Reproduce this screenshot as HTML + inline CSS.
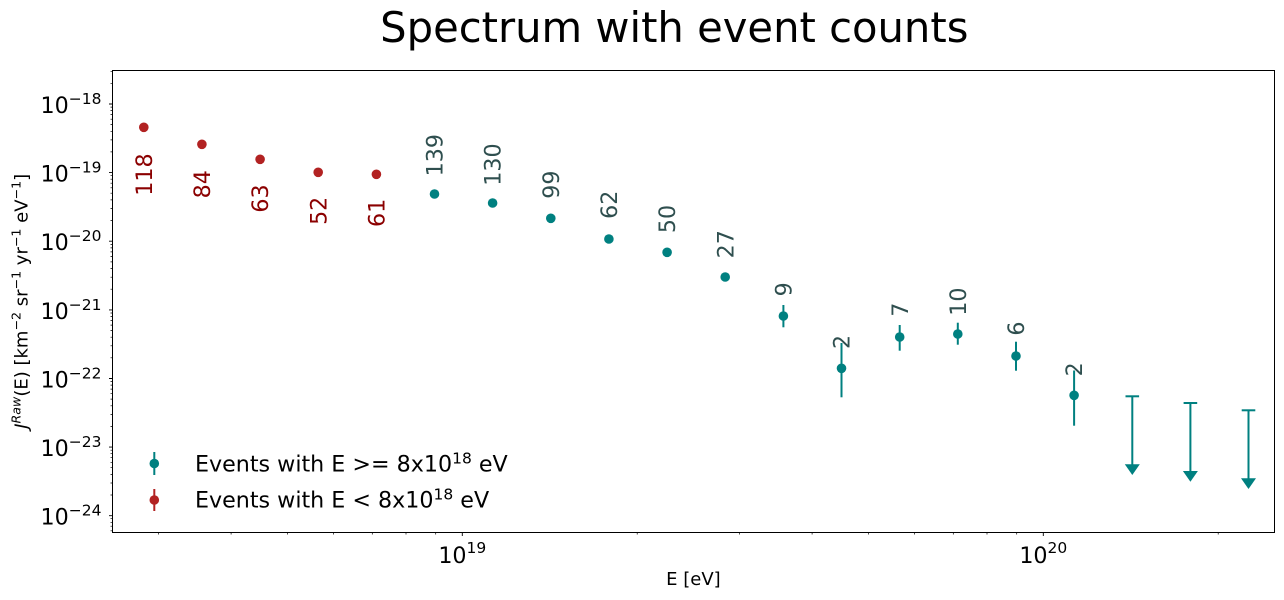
<!DOCTYPE html>
<html>
<head>
<meta charset="utf-8">
<style>
  html, body { margin: 0; padding: 0; background: #ffffff; }
  svg { display: block; }
  text { font-family: "DejaVu Sans", "Liberation Sans", sans-serif; }
</style>
</head>
<body>
<svg width="1284" height="600" viewBox="0 0 1284 600" xmlns="http://www.w3.org/2000/svg">
  <rect x="0" y="0" width="1284" height="600" fill="#ffffff"/>

  <!-- Title -->
  <text x="674.3" y="42" font-size="41.7" text-anchor="middle" fill="#000">Spectrum with event counts</text>

  <!-- Axes frame -->
  <rect x="112.5" y="70.5" width="1162" height="462" fill="none" stroke="#000" stroke-width="1"/>

  <!-- X major ticks -->
  <path d="M462.3 532.5 v3.5 M1043.3 532.5 v3.5" stroke="#000" stroke-width="0.9"/>
  <!-- X minor ticks -->
  <path d="M158.5 532.5 v2 M231.1 532.5 v2 M287.4 532.5 v2 M333.4 532.5 v2 M372.3 532.5 v2 M406 532.5 v2 M435.7 532.5 v2
           M637.2 532.5 v2 M739.5 532.5 v2 M812.1 532.5 v2 M868.4 532.5 v2 M914.4 532.5 v2 M953.3 532.5 v2 M987 532.5 v2 M1016.7 532.5 v2
           M1218.2 532.5 v2" stroke="#000" stroke-width="0.7"/>

  <!-- Y major ticks -->
  <path d="M112.5 104 h-3.5 M112.5 172.6 h-3.5 M112.5 241.2 h-3.5 M112.5 309.9 h-3.5 M112.5 378.5 h-3.5 M112.5 447.1 h-3.5 M112.5 515.7 h-3.5" stroke="#000" stroke-width="0.9"/>
  <!-- Y minor ticks -->
  <path d="M112.5 530.8 h-2 M112.5 526.2 h-2 M112.5 522.3 h-2 M112.5 518.7 h-2
           M112.5 495.0 h-2 M112.5 483.0 h-2 M112.5 474.4 h-2 M112.5 467.7 h-2 M112.5 462.3 h-2 M112.5 457.7 h-2 M112.5 453.7 h-2 M112.5 450.2 h-2
           M112.5 426.4 h-2 M112.5 414.4 h-2 M112.5 405.8 h-2 M112.5 399.1 h-2 M112.5 393.7 h-2 M112.5 389.1 h-2 M112.5 385.1 h-2 M112.5 381.6 h-2
           M112.5 357.8 h-2 M112.5 345.8 h-2 M112.5 337.2 h-2 M112.5 330.5 h-2 M112.5 325.1 h-2 M112.5 320.5 h-2 M112.5 316.5 h-2 M112.5 313.0 h-2
           M112.5 289.2 h-2 M112.5 277.2 h-2 M112.5 268.6 h-2 M112.5 261.9 h-2 M112.5 256.5 h-2 M112.5 251.9 h-2 M112.5 247.9 h-2 M112.5 244.4 h-2
           M112.5 220.5 h-2 M112.5 208.5 h-2 M112.5 199.9 h-2 M112.5 193.2 h-2 M112.5 187.8 h-2 M112.5 183.2 h-2 M112.5 179.2 h-2 M112.5 175.7 h-2
           M112.5 151.9 h-2 M112.5 139.9 h-2 M112.5 131.3 h-2 M112.5 124.6 h-2 M112.5 119.2 h-2 M112.5 114.6 h-2 M112.5 110.6 h-2 M112.5 107.1 h-2
           M112.5 83.3 h-2 M112.5 71.3 h-2" stroke="#000" stroke-width="0.7"/>

  <!-- Y tick labels -->
  <g font-size="22.2" fill="#000" text-anchor="end">
    <text x="101.5" y="113">10<tspan font-size="15.5" dy="-9">−18</tspan></text>
    <text x="101.5" y="181.6">10<tspan font-size="15.5" dy="-9">−19</tspan></text>
    <text x="101.5" y="250.2">10<tspan font-size="15.5" dy="-9">−20</tspan></text>
    <text x="101.5" y="318.9">10<tspan font-size="15.5" dy="-9">−21</tspan></text>
    <text x="101.5" y="387.5">10<tspan font-size="15.5" dy="-9">−22</tspan></text>
    <text x="101.5" y="456.1">10<tspan font-size="15.5" dy="-9">−23</tspan></text>
    <text x="101.5" y="524.7">10<tspan font-size="15.5" dy="-9">−24</tspan></text>
  </g>

  <!-- X tick labels -->
  <g font-size="22.2" fill="#000" text-anchor="middle">
    <text x="462.3" y="563">10<tspan font-size="15.5" dy="-10">19</tspan></text>
    <text x="1043.3" y="563">10<tspan font-size="15.5" dy="-10">20</tspan></text>
  </g>

  <!-- Axis labels -->
  <text x="693.4" y="585" font-size="18" text-anchor="middle" fill="#000">E [eV]</text>
  <text transform="translate(27.5,301.3) rotate(-90)" font-size="18" text-anchor="middle" fill="#000"><tspan font-style="italic">J</tspan><tspan font-size="12.6" dy="-7" font-style="italic">Raw</tspan><tspan dy="7">(E) [km</tspan><tspan font-size="12.6" dy="-7">−2</tspan><tspan dy="7"> sr</tspan><tspan font-size="12.6" dy="-7">−1</tspan><tspan dy="7"> yr</tspan><tspan font-size="12.6" dy="-7">−1</tspan><tspan dy="7"> eV</tspan><tspan font-size="12.6" dy="-7">−1</tspan><tspan dy="7">]</tspan></text>

  <!-- Red points -->
  <g fill="#b22222">
    <circle cx="143.8" cy="127.3" r="4.8"/>
    <circle cx="201.9" cy="144.3" r="4.8"/>
    <circle cx="260.1" cy="159.3" r="4.8"/>
    <circle cx="318.2" cy="172.3" r="4.8"/>
    <circle cx="376.4" cy="174.3" r="4.8"/>
  </g>

  <!-- Red labels -->
  <g font-size="22.2" fill="#8b0000" text-anchor="end">
    <text transform="translate(151.9,153.4) rotate(-90)">118</text>
    <text transform="translate(210,170.1) rotate(-90)">84</text>
    <text transform="translate(268.2,184.4) rotate(-90)">63</text>
    <text transform="translate(326.3,196.7) rotate(-90)">52</text>
    <text transform="translate(384.5,198.8) rotate(-90)">61</text>
  </g>

  <!-- Teal error bars -->
  <g stroke="#008080" stroke-width="2" fill="none">
    <path d="M725.2 273 V281"/>
    <path d="M783.4 305 V327.3"/>
    <path d="M841.5 343 V397.3"/>
    <path d="M899.7 325 V350.7"/>
    <path d="M957.8 322.7 V344.7"/>
    <path d="M1016 341.7 V370.7"/>
    <path d="M1074.1 370.5 V425.7"/>
    <!-- upper limits -->
    <path d="M1132.3 396.3 V465"/>
    <path d="M1125.5 396.3 H1139.1"/>
    <path d="M1190.4 403 V472"/>
    <path d="M1183.6 403 H1197.2"/>
    <path d="M1248.5 410.3 V479"/>
    <path d="M1241.7 410.3 H1255.3"/>
  </g>
  <g fill="#008080">
    <polygon points="1124.8,464.3 1139.8,464.3 1132.3,475"/>
    <polygon points="1182.9,471 1197.9,471 1190.4,481.7"/>
    <polygon points="1241,478.3 1256,478.3 1248.5,489"/>
  </g>

  <!-- Teal points -->
  <g fill="#008080">
    <circle cx="434.5" cy="194" r="4.8"/>
    <circle cx="492.6" cy="203" r="4.8"/>
    <circle cx="550.8" cy="218.3" r="4.8"/>
    <circle cx="608.9" cy="239" r="4.8"/>
    <circle cx="667.1" cy="252.3" r="4.8"/>
    <circle cx="725.2" cy="277" r="4.8"/>
    <circle cx="783.4" cy="316" r="4.8"/>
    <circle cx="841.5" cy="368.3" r="4.8"/>
    <circle cx="899.7" cy="337" r="4.8"/>
    <circle cx="957.8" cy="334" r="4.8"/>
    <circle cx="1016" cy="356" r="4.8"/>
    <circle cx="1074.1" cy="395.3" r="4.8"/>
  </g>

  <!-- Teal labels -->
  <g font-size="22.2" fill="#2f4f4f" text-anchor="start">
    <text transform="translate(442.6,176.4) rotate(-90)">139</text>
    <text transform="translate(500.7,185.7) rotate(-90)">130</text>
    <text transform="translate(558.9,198.7) rotate(-90)">99</text>
    <text transform="translate(617,218.9) rotate(-90)">62</text>
    <text transform="translate(675.2,233.1) rotate(-90)">50</text>
    <text transform="translate(733.3,258.4) rotate(-90)">27</text>
    <text transform="translate(791.5,296.4) rotate(-90)">9</text>
    <text transform="translate(849.6,349) rotate(-90)">2</text>
    <text transform="translate(907.8,316.8) rotate(-90)">7</text>
    <text transform="translate(965.9,315.7) rotate(-90)">10</text>
    <text transform="translate(1024.1,335.6) rotate(-90)">6</text>
    <text transform="translate(1082.2,376.4) rotate(-90)">2</text>
  </g>

  <!-- Legend -->
  <path d="M154.3 452 V475" stroke="#008080" stroke-width="2"/>
  <circle cx="154.3" cy="463.5" r="4.8" fill="#008080"/>
  <path d="M154.3 489 V511" stroke="#b22222" stroke-width="2"/>
  <circle cx="154.3" cy="500" r="4.8" fill="#b22222"/>
  <g font-size="22.2" fill="#000">
    <text x="195" y="471.5">Events with E &gt;= 8x10<tspan font-size="15.5" dy="-8">18</tspan><tspan dy="8"> eV</tspan></text>
    <text x="195" y="507.5">Events with E &lt; 8x10<tspan font-size="15.5" dy="-8">18</tspan><tspan dy="8"> eV</tspan></text>
  </g>
</svg>
</body>
</html>
